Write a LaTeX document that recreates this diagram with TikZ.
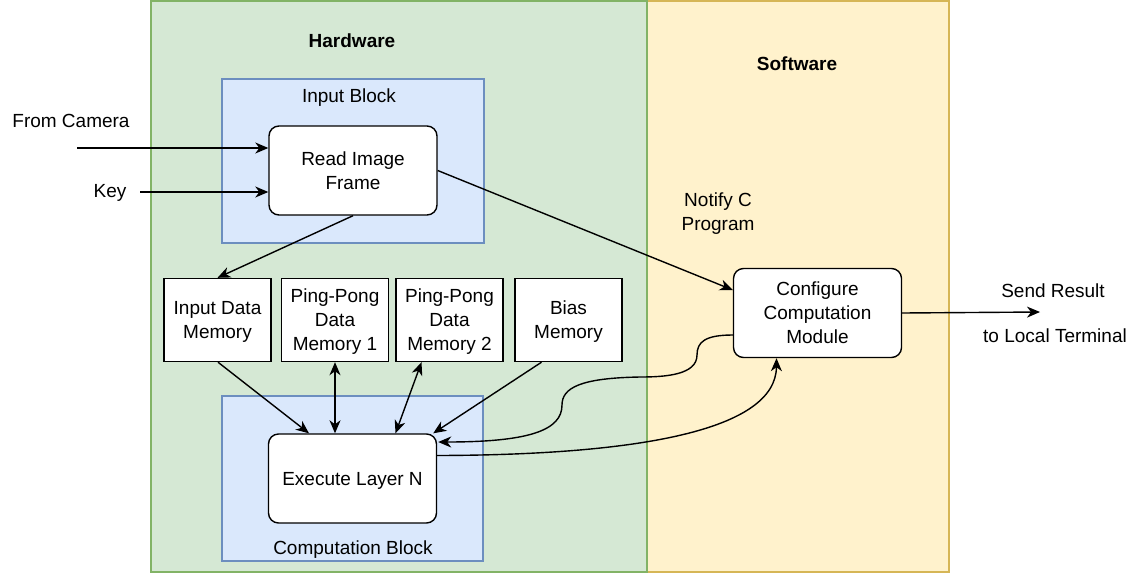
\documentclass[tikz,border=0pt]{standalone}
\usepackage{fontspec}
\setmainfont{Liberation Sans}
\usetikzlibrary{arrows.meta, calc}
\definecolor{hwfill}{HTML}{D5E8D4}
\definecolor{hwline}{HTML}{82B366}
\definecolor{swfill}{HTML}{FFF2CC}
\definecolor{swline}{HTML}{D6B656}
\definecolor{blkfill}{HTML}{DAE8FC}
\definecolor{blkline}{HTML}{6C8EBF}

\begin{document}
\begin{tikzpicture}[x=0.5pt, y=-0.5pt, font=\fontsize{9.5}{12}\selectfont,
  >={Stealth[length=6.5pt, width=5.5pt, inset=2pt]}, line width=0.7pt,
  membox/.style={draw, fill=white, align=center, inner sep=0pt, text depth=0pt, minimum width=53.5pt, minimum height=41.5pt},
  procbox/.style={membox, rounded corners=5pt, minimum width=84pt, minimum height=44.5pt},
  blk/.style={draw=blkline, fill=blkfill, line width=0.8pt}]
\useasboundingbox (0,0) rectangle (1138,573);
\filldraw[fill=swfill, draw=swline, line width=0.8pt] (647,1) rectangle (949,572);
\filldraw[fill=hwfill, draw=hwline, line width=0.8pt] (151,1) rectangle (647,572);
\filldraw[blk] (222,79) rectangle (484,243);
\filldraw[blk] (222,396) rectangle (483,561);
\node[font=\fontsize{9.5}{12}\selectfont\bfseries] (hw) at (352,41) {Hardware};
\node[font=\fontsize{9.5}{12}\selectfont\bfseries] (sw) at (797,64) {Software};
\node (inblk) at (349,98) {Input Block};
\node (compblk) at (353,550) {Computation Block};
\node (cam) at (71,121) {From Camera};
\node (key) at (110,193) {Key};
\coordinate (camin) at (77,148);
\coordinate (keyin) at (140,192);
\node[procbox] (rif) at (353,170.5) {Read Image\\Frame};
\node[membox] (idm) at (217.5,320) {Input Data\\Memory};
\node[membox] (pp1) at (335,320) {Ping-Pong\\Data\\Memory 1};
\node[membox] (pp2) at (449.5,320) {Ping-Pong\\Data\\Memory 2};
\node[membox] (bias) at (568.5,320) {Bias\\Memory};
\node[procbox] (exec) at (352.5,478.5) {Execute Layer N};
\node[procbox] (conf) at (817.5,313) {Configure\\Computation\\Module};
\node[align=center] (notify) at (718,214) {Notify C\\Program};
\node (send) at (1053,291) {Send Result};
\node (term) at (1055,336) {to Local Terminal};
\coordinate (out) at (1040,312);
\draw [->] (camin) -- ($(rif.west)+(0,-22.5)$);
\draw [->] (keyin) -- ($(rif.west)+(0,21.5)$);
\draw [->] (rif.south) -- (idm.north);
\draw [->] (rif.east) -- ($(conf.west)+(0,-23)$);
\draw [->] ($(idm.south)+(0.5,0)$) -- ($(exec.north)+(-43.5,0)$);
\draw [<->] (pp1.south) -- (exec.north -| pp1.south);
\draw [<->] ($(pp2.south)+(-28,0)$) -- ($(exec.north)+(43,0)$);
\draw [->] ($(bias.south)+(-27,0)$) -- ($(exec.north east)+(-4,0)$);
\draw [->] (conf.east) -- (out);
\draw [->] ($(conf.west)+(0,22)$) .. controls (705,335) and (697,342) .. (697,355) .. controls (697,375) and (665,377) .. (640,377) .. controls (580,378) and (562,388) .. (562,405) .. controls (562,430) and (530,442) .. ($(exec.east)+(1,-36.5)$);
\draw [->] ($(exec.east)+(0,-23)$) .. controls (640,455) and (776,430) .. ($(conf.south)+(-41,0)$);
\end{tikzpicture}
\end{document}
